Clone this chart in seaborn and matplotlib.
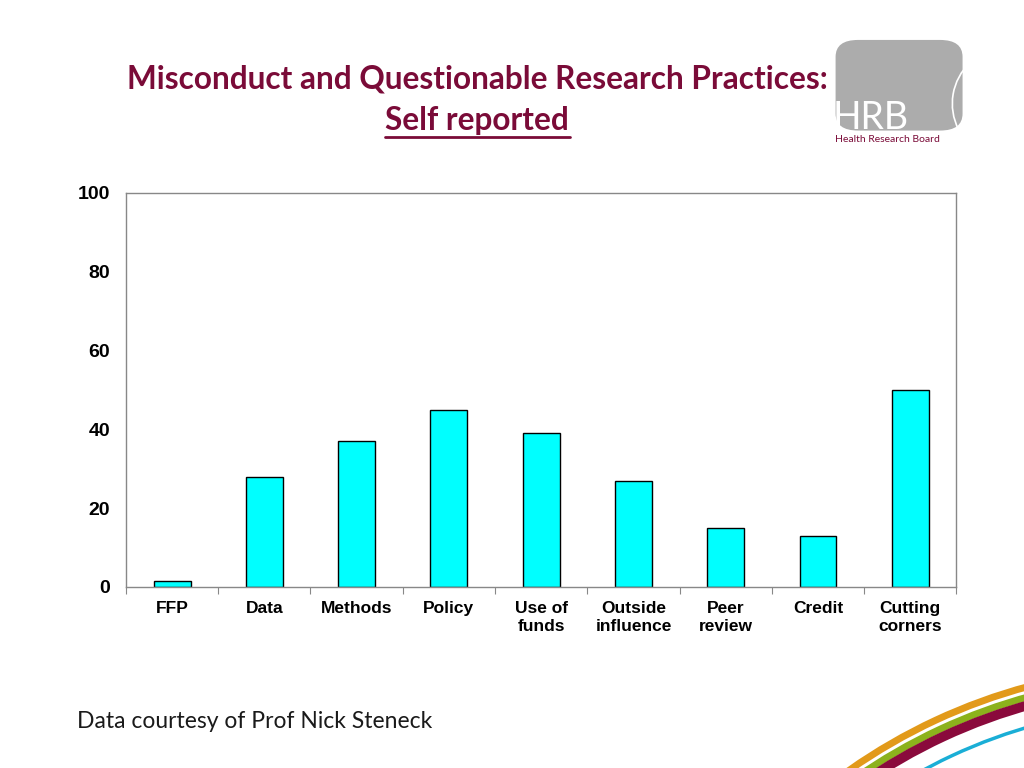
"""Self reported misconduct bar chart"""
import numpy as np
import pandas as pd
import matplotlib
matplotlib.use('Agg')
import matplotlib.pyplot as plt
from matplotlib.patches import FancyBboxPatch, Arc
import seaborn as sns

# data
categories = ['FFP', 'Data', 'Methods', 'Policy', 'Use of\nfunds',
              'Outside\ninfluence', 'Peer\nreview', 'Credit', 'Cutting\ncorners']
percent = [1.5, 28, 37, 45, 39, 27, 15, 13, 50]
y_ticks = [0, 20, 40, 60, 80, 100]

MAROON = '#7a0b38'

sns.set_theme(style='white')
plt.rcParams['font.family'] = ['Liberation Sans', 'DejaVu Sans']

df = pd.DataFrame({'category': categories, 'percent': percent})

fig = plt.figure(figsize=(10.24, 7.68), dpi=100)
ax = fig.add_axes([0.123, 0.2357, 0.811, 0.513])

sns.barplot(data=df, x='category', y='percent', color='#00ffff',
            saturation=1, edgecolor='black', linewidth=1.0, width=0.4, ax=ax)

ax.set_ylim(0, 100)
ax.set_xlim(-0.5, len(categories) - 0.5)
ax.set_yticks(y_ticks)
ax.set_yticklabels([str(t) for t in y_ticks], fontsize=14,
                   fontweight='bold', color='black')
ax.set_xticks(range(len(categories)))
ax.set_xticklabels(categories, fontsize=12.5, fontweight='bold',
                   color='black', linespacing=1.28)
ax.set_xticks(np.arange(-0.5, len(categories), 1.0), minor=True)
ax.tick_params(axis='x', which='major', length=0, pad=10)
ax.tick_params(axis='x', which='minor', length=5, color='#888888',
               width=0.8, direction='out', bottom=True)
ax.tick_params(axis='y', length=0, pad=11.5)
ax.set_xlabel('')
ax.set_ylabel('')
for s in ax.spines.values():
    s.set_color('#888888')
    s.set_linewidth(1.0)

# title
title_font = ['Lato', 'DejaVu Sans']
fig.text(0.4663, 0.897, 'Misconduct and Questionable Research Practices:',
         ha='center', va='center', fontsize=22.8, fontweight='bold',
         color=MAROON, family=title_font)
fig.text(0.466, 0.843, 'Self reported', ha='center', va='center',
         fontsize=22.8, fontweight='bold', color=MAROON, family=title_font)
fig.add_artist(plt.Line2D([0.376, 0.557], [0.8215, 0.8215], color=MAROON, lw=2))

# footnote
fig.text(0.075, 0.06, 'Data courtesy of Prof Nick Steneck', ha='left',
         va='center', fontsize=16.5, color='#1a1a1a', family=title_font)

# logo (rough sketch of the HRB mark)
logo = FancyBboxPatch((0.816, 0.83), 0.124, 0.118,
                      boxstyle='round,pad=0,rounding_size=0.022',
                      transform=fig.transFigure, facecolor='#acacac',
                      edgecolor='none')
fig.add_artist(logo)
fig.add_artist(Arc((0.985, 0.865), 0.11, 0.11 * 1024 / 768, theta1=95,
                   theta2=250, transform=fig.transFigure, color='white', lw=1.2))
fig.text(0.813, 0.846, 'HRB', ha='left', va='center', fontsize=27,
         color='white', family=title_font)
fig.text(0.815, 0.818, 'Health Research Board', ha='left', va='center',
         fontsize=7.5, color=MAROON, family=title_font)

# decorative arcs bottom right (centre and radii in inches)
for r, col, lw in [(5.69, '#e29a1a', 5), (5.59, '#8cb21c', 5),
                   (5.51, '#8a0a3c', 7), (5.30, '#1aaed6', 2.5)]:
    arc = Arc((11.76, -4.68), 2 * r, 2 * r, theta1=95, theta2=135,
              transform=fig.dpi_scale_trans, color=col, lw=lw)
    fig.add_artist(arc)

fig.savefig('out.png', dpi=100)
